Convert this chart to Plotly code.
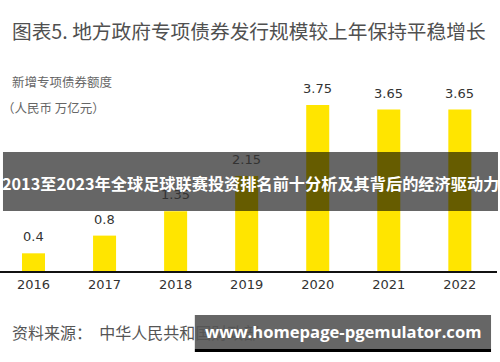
import plotly.graph_objects as go

years = ["2016", "2017", "2018", "2019", "2020", "2021", "2022"]
quota = [0.4, 0.8, 1.35, 2.15, 3.75, 3.65, 3.65]
value_labels = ["0.4", "0.8", "1.35", "2.15", "3.75", "3.65", "3.65"]

title_text = "图表5. 地方政府专项债券发行规模较上年保持平稳增长"
ylabel_1 = "新增专项债券额度"
ylabel_2 = "（人民币 万亿元）"
source_text = "资料来源：  中华人民共和国财政部"
banner_text = "2013至2023年全球足球联赛投资排名前十分析及其背后的经济驱动力"
watermark_text = "www.homepage-pgemulator.com"

FONT = "Noto Sans CJK SC, Noto Sans, sans-serif"

fig = go.Figure()
fig.add_trace(go.Bar(
    x=years, y=quota,
    marker=dict(color="#FFE500", line=dict(width=0)),
    hoverinfo="skip",
))

annotations = []
for i, (v, lab) in enumerate(zip(quota, value_labels)):
    annotations.append(dict(x=i, y=v, xref="x", yref="y", text=lab, showarrow=False,
                            yanchor="bottom", yshift=7,
                            font=dict(size=13, color="#333333", family="Verdana, DejaVu Sans, sans-serif")))

annotations += [
    dict(x=0.0201, y=1.142, xref="paper", yref="paper", text=title_text, showarrow=False,
         xanchor="left", yanchor="middle", font=dict(size=19.7, color="#505050", family=FONT)),
    dict(x=0.0201, y=0.896, xref="paper", yref="paper", text=ylabel_1, showarrow=False,
         xanchor="left", yanchor="middle", font=dict(size=12.5, color="#666666", family=FONT)),
    dict(x=0.0, y=0.777, xref="paper", yref="paper", text=ylabel_2, showarrow=False,
         xanchor="left", yanchor="middle", font=dict(size=12.5, color="#666666", family=FONT)),
    dict(x=0.0201, y=-0.289, xref="paper", yref="paper", text=source_text, showarrow=False,
         xanchor="left", yanchor="middle", font=dict(size=16, color="#555555", family=FONT)),
]

shapes = [
    dict(type="rect", xref="paper", yref="paper", x0=0.006, x1=1.002, y0=0.284, y1=0.564,
         fillcolor="rgba(0,0,0,0.6)", line=dict(width=0), layer="above"),
    dict(type="rect", xref="paper", yref="paper", x0=0.392, x1=0.988, y0=-0.3697, y1=-0.2085,
         fillcolor="rgba(0,0,0,0.6)", line=dict(width=0), layer="above"),
    dict(type="rect", xref="paper", yref="paper", x0=0.392, x1=0.988, y0=-0.3839, y1=-0.3697,
         fillcolor="#000000", line=dict(width=0), layer="above"),
]

annotations += [
    dict(x=0.504, y=0.417, xref="paper", yref="paper", text="<b>" + banner_text + "</b>", showarrow=False,
         xanchor="center", yanchor="middle", font=dict(size=16.2, color="#ffffff", family=FONT)),
    dict(x=0.69, y=-0.286, xref="paper", yref="paper", text="<b>" + watermark_text + "</b>", showarrow=False,
         xanchor="center", yanchor="middle", font=dict(size=16.6, color="#ffffff", family="Open Sans, Noto Sans, sans-serif")),
]

fig.update_layout(
    width=500, height=362,
    margin=dict(l=0, r=3, t=60, b=91),
    paper_bgcolor="white", plot_bgcolor="white",
    showlegend=False,
    bargap=0.676,
    annotations=annotations,
    shapes=shapes,
    xaxis=dict(type="category", range=[-0.4715, 6.523], showline=True, linecolor="#111111",
               linewidth=2, showgrid=False, ticks="", zeroline=False,
               tickfont=dict(size=13, color="#333333", family="Verdana, DejaVu Sans, sans-serif")),
    yaxis=dict(range=[0, 4.77], visible=False, showgrid=False, zeroline=False),
)

fig.write_html("out.html", config={"displayModeBar": False},
               post_script="document.body.style.margin='0';")
